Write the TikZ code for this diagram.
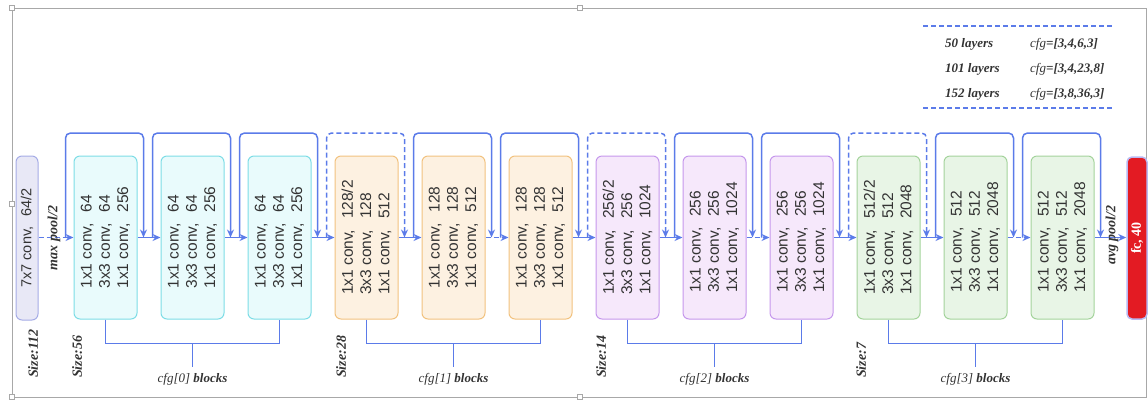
\documentclass[tikz,border=0pt]{standalone}
\usepackage{fontspec}
\setmainfont{Liberation Serif}
\newfontfamily\arialfont{Liberation Sans}
\usetikzlibrary{arrows.meta,calc}

\definecolor{flowblue}{HTML}{5B7BE9}
\definecolor{framegray}{HTML}{A8A8A8}
\definecolor{stemfill}{HTML}{E8E8F6}
\definecolor{stemline}{HTML}{A5ACE6}
\definecolor{cyanfill}{HTML}{E9FBFC}
\definecolor{cyanline}{HTML}{7DDDE6}
\definecolor{orangefill}{HTML}{FDF1E1}
\definecolor{orangeline}{HTML}{F2C27F}
\definecolor{purplefill}{HTML}{F6E8FB}
\definecolor{purpleline}{HTML}{C597EC}
\definecolor{greenfill}{HTML}{E8F5E6}
\definecolor{greenline}{HTML}{A3D39B}
\definecolor{fcred}{HTML}{E31B23}
\definecolor{fcline}{HTML}{B9B9F2}
\definecolor{ink}{HTML}{333333}

% three stacked conv layers of one bottleneck block
\newcommand\convstack[3]{1x1 conv,\hspace{.7em}#1\\3x3 conv,\hspace{.7em}#2\\1x1 conv,\hspace{.7em}#3}

\begin{document}
\begin{tikzpicture}[x=1pt,y=-1pt,
  flow/.style={draw=flowblue, line width=1.5pt, -{Stealth[length=8pt,width=7pt]}},
  wire/.style={draw=flowblue, line width=1.5pt},
  dashline/.style={dash pattern=on 5pt off 3pt},
  box/.style={line width=1pt, rounded corners=6pt, minimum width=63pt,
    minimum height=163pt, inner sep=0pt},
  grp0/.style={box, fill=cyanfill, draw=cyanline},
  grp1/.style={box, fill=orangefill, draw=orangeline},
  grp2/.style={box, fill=purplefill, draw=purpleline},
  grp3/.style={box, fill=greenfill, draw=greenline},
  layers/.style={rotate=90, align=left, inner sep=0pt, text=ink,
    font=\arialfont\fontsize{15.5}{18.3}\selectfont},
  sizelbl/.style={rotate=90, anchor=west, inner sep=0pt, text=ink,
    font=\bfseries\itshape\fontsize{14}{16}\selectfont},
  poollbl/.style={rotate=90, inner sep=0pt, text=ink,
    font=\bfseries\itshape\fontsize{14}{16}\selectfont},
  cfglbl/.style={inner sep=0pt, text=ink, font=\itshape\fontsize{13}{15}\selectfont},
  legend/.style={inner sep=0pt, anchor=west, text=ink, font=\itshape\fontsize{13}{15}\selectfont},
  handle/.style={draw=framegray, fill=white, line width=0.6pt, minimum size=5pt, inner sep=0pt},
]
\useasboundingbox (0,0) rectangle (1148,400);

% outer frame with its handles
\draw[framegray, line width=0.8pt] (12,8) rectangle (1146,397);
\foreach \hx/\hy [count=\h] in {12/8, 580/8, 12/204, 12/397, 580/397}
  \node[handle] (h\h) at (\hx,\hy) {};

% stem convolution
\node[fill=stemfill, draw=stemline, line width=1pt, rounded corners=6pt,
  minimum width=22pt, minimum height=164pt, inner sep=0pt] (stem) at (27,238) {};
\node[rotate=90, inner sep=0pt, text=ink, font=\arialfont\fontsize{14.5}{17}\selectfont]
  (stemtxt) at (stem) {7x7 conv,\hspace{.7em}64/2};

% bottleneck blocks
\foreach \i/\g/\p/\q/\r in {
  1/0/64/64/256, 2/0/64/64/256, 3/0/64/64/256,
  4/1/128\slash 2/128/512, 5/1/128/128/512, 6/1/128/128/512,
  7/2/256\slash 2/256/1024, 8/2/256/256/1024, 9/2/256/256/1024,
  10/3/512\slash 2/512/2048, 11/3/512/512/2048, 12/3/512/512/2048} {
  \node[grp\g] (b\i) at ({105.5+87*(\i-1)},237.5) {};
  \node[layers] (t\i) at (b\i) {\convstack{\p}{\q}{\r}};
}

% classifier
\node[fill=fcred, draw=fcline, line width=1.5pt, rounded corners=5pt,
  minimum width=20pt, minimum height=162pt, inner sep=0pt] (fc) at (1137,238) {};
\node[rotate=90, inner sep=0pt, text=white, font=\bfseries\fontsize{14}{16}\selectfont]
  (fctxt) at (fc) {fc, 40};

% main data path
\draw[flow, dashline] (stem.east |- b1.west) -- (b1.west);
\foreach \a/\b in {1/2, 2/3, 3/4, 4/5, 6/7, 7/8, 9/10, 10/11}
  \draw[flow] (b\a.east) -- (b\b.west);
\foreach \a/\b in {5/6, 8/9, 11/12}
  \draw[flow, dashline] (b\a.east) -- (b\b.west);
\draw[flow] (b12.east) -- (fc.west |- b12.east);

% shortcut connections (dashed where the shortcut downsamples)
\foreach \i in {1,2,3,5,6,8,9,11,12}
  \draw[flow, rounded corners=5pt] ($(b\i.west)+(-8,0)$) -- ++(0,-104.5) -- ++(78,0) -- ++(0,104.5);
\foreach \i in {4,7,10}
  \draw[flow, dashline, rounded corners=5pt] ($(b\i.west)+(-8,0)$) -- ++(0,-104.5) -- ++(78,0) -- ++(0,104.5);

% pooling labels
\node[poollbl] (mp) at (54,238) {max pool/2};
\node[poollbl] (ap) at (1112,235) {avg pool/2};

% feature map sizes
\node[sizelbl] (sz0) at (33,378) {Size:112};
\node[sizelbl] (sz1) at (77,378) {Size:56};
\node[sizelbl] (sz2) at (341,378) {Size:28};
\node[sizelbl] (sz3) at (601,378) {Size:14};
\node[sizelbl] (sz4) at (861,378) {Size:7};

% stage brackets
\foreach \a/\m/\z/\k in {1/2/3/0, 4/5/6/1, 7/8/9/2, 10/11/12/3} {
  \draw[wire] (b\a.south) -- ++(0,24) -| (b\z.south);
  \draw[wire] ($(b\m.south)+(0,24)$) -- ++(0,23);
  \node[cfglbl] (cl\k) at ($(b\m.south)+(0,60)$) {cfg[\k]\ \textbf{blocks}};
}

% depth table
\draw[wire, line width=1.2pt, dashline] (923,26) coordinate (lg1) -- (1112,26) coordinate (lg2);
\draw[wire, line width=1.2pt, dashline] (923,108) coordinate (lg3) -- (1112,108) coordinate (lg4);
\foreach \n/\c/\yy in {50/{3,4,6,3}/44, 101/{3,4,23,8}/69, 152/{3,8,36,3}/94} {
  \node[legend] (ln\n) at (945,\yy) {\textbf{\n\ layers}};
  \node[legend] (lc\n) at (1030,\yy) {cfg\textbf{=[\c]}};
}
\end{tikzpicture}
\end{document}
